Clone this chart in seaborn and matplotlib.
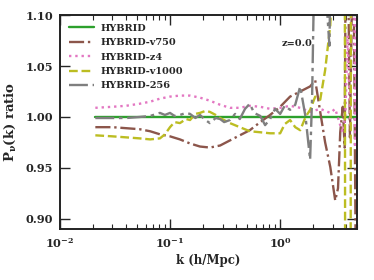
import matplotlib

matplotlib.use("Agg")
import matplotlib.pyplot as plt
import numpy as np
import pandas as pd
import seaborn as sns

# series
k_hybrid = [0.021, 0.05, 0.1, 0.3, 1.0, 3.0, 5.0]
r_hybrid = [1.0, 1.0, 1.0, 1.0, 1.0, 1.0, 1.0]

k_v750 = [0.021, 0.03, 0.04, 0.053, 0.066, 0.081, 0.1, 0.123, 0.152, 0.187,
          0.23, 0.285, 0.35, 0.43, 0.53, 0.66, 0.81, 1.0, 1.23, 1.52,
          1.87, 2.08, 2.31, 2.56, 2.85, 3.16, 3.35, 3.51, 3.7, 3.85,
          4.0, 4.3, 4.6, 4.9, 5.0]
r_v750 = [0.990, 0.990, 0.989, 0.988, 0.986, 0.983, 0.981, 0.978, 0.974, 0.971,
          0.970, 0.972, 0.977, 0.982, 0.987, 0.995, 1.002, 1.010, 1.020, 1.025,
          1.030, 1.036, 1.005, 0.975, 0.951, 0.918, 0.930, 0.985, 1.010, 0.970,
          1.300, 0.980, 1.200, 0.800, 0.850]

k_z4 = [0.021, 0.03, 0.04, 0.053, 0.066, 0.081, 0.1, 0.123, 0.152, 0.187,
        0.23, 0.285, 0.35, 0.43, 0.53, 0.66, 0.81, 1.0, 1.23, 1.52,
        1.87, 2.31, 2.85, 3.16, 3.51, 3.7, 3.9, 4.1, 4.33, 4.6,
        4.8, 5.0]
r_z4 = [1.009, 1.010, 1.011, 1.013, 1.015, 1.018, 1.020, 1.021, 1.021, 1.019,
        1.016, 1.012, 1.009, 1.009, 1.011, 1.010, 1.008, 1.009, 1.011, 1.009,
        1.005, 1.008, 1.004, 1.008, 0.992, 0.985, 1.000, 1.080, 0.990, 1.300,
        0.970, 1.250]

k_v1000 = [0.021, 0.03, 0.04, 0.053, 0.066, 0.081, 0.09, 0.1, 0.11, 0.123,
           0.14, 0.152, 0.17, 0.187, 0.21, 0.23, 0.26, 0.285, 0.35, 0.43,
           0.53, 0.66, 0.81, 1.0, 1.1, 1.23, 1.37, 1.52, 1.7, 1.87,
           2.08, 2.31, 2.56, 2.85, 3.16, 3.5, 3.85, 3.9, 4.35, 4.4,
           4.8, 5.0]
r_v1000 = [0.982, 0.981, 0.980, 0.979, 0.978, 0.979, 0.983, 0.990, 0.995, 0.994,
           0.998, 0.997, 1.003, 1.004, 1.006, 1.005, 1.002, 0.999, 0.994, 0.990,
           0.986, 0.985, 0.984, 0.984, 0.993, 0.997, 0.990, 0.987, 1.000, 1.007,
           1.020, 1.017, 1.046, 1.090, 1.200, 1.300, 1.300, 0.700, 0.700, 1.300,
           1.300, 1.200]

k_256 = [0.021, 0.03, 0.04, 0.053, 0.066, 0.081, 0.09, 0.1, 0.11, 0.123,
         0.14, 0.152, 0.17, 0.187, 0.21, 0.23, 0.26, 0.285, 0.31, 0.35,
         0.39, 0.43, 0.48, 0.53, 0.58, 0.66, 0.73, 0.81, 0.9, 1.0,
         1.1, 1.23, 1.37, 1.52, 1.7, 1.87, 1.95, 2.08, 2.3, 2.5,
         2.8, 3.0]
r_256 = [0.999, 0.999, 0.999, 1.000, 1.001, 1.004, 1.002, 1.004, 1.001, 1.002,
         1.004, 1.003, 0.999, 1.002, 0.997, 0.994, 0.999, 0.998, 0.995, 0.997,
         1.003, 0.998, 1.008, 1.013, 1.004, 1.001, 0.992, 0.998, 1.008, 1.003,
         1.011, 1.007, 1.012, 1.030, 1.000, 0.958, 1.020, 1.200, 1.350, 1.150,
         1.070, 1.300]

labels = ["HYBRID", "HYBRID-v750", "HYBRID-z4", "HYBRID-v1000", "HYBRID-256"]
colors = ["#2ca02c", "#8c564b", "#e377c2", "#bcbd22", "#7f7f7f"]
styles = ["-", "-.", ":", "--", (0, (8, 2, 1.5, 2))]
series = [(k_hybrid, r_hybrid), (k_v750, r_v750), (k_z4, r_z4),
          (k_v1000, r_v1000), (k_256, r_256)]

sns.set_style("ticks")
plt.rcParams["font.family"] = ["DejaVu Serif"]
plt.rcParams["font.weight"] = "bold"
plt.rcParams["axes.labelweight"] = "bold"
plt.rcParams["mathtext.fontset"] = "dejavuserif"
plt.rcParams["mathtext.default"] = "bf"

fig = plt.figure(figsize=(3.74, 2.80), dpi=100)
ax = fig.add_axes([0.160, 0.182, 0.795, 0.764])

for (k, r), lab, c, ls in zip(series, labels, colors, styles):
    df = pd.DataFrame({"k": k, "ratio": r})
    sns.lineplot(data=df, x="k", y="ratio", ax=ax, color=c, label=lab,
                 linestyle=ls, linewidth=1.7, estimator=None, sort=False)

ax.set_xscale("log")
ax.set_xlim(0.01, 5.0)
ax.set_ylim(0.89, 1.10)
ax.set_yticks([0.90, 0.95, 1.00, 1.05, 1.10])
ax.set_yticklabels(["0.90", "0.95", "1.00", "1.05", "1.10"])

ax.set_xlabel("k (h/Mpc)", fontsize=8.5, fontweight="bold", labelpad=3)
ax.set_ylabel(r"P$_\nu$(k) ratio", fontsize=9.5, fontweight="bold", labelpad=5)
ax.tick_params(which="both", direction="in", top=True, right=True, labelsize=8.2)
ax.tick_params(which="major", length=7, width=1, pad=5)
ax.tick_params(which="minor", length=3.5, width=0.8)
for sp in ax.spines.values():
    sp.set_linewidth(1.4)
    sp.set_color("#222222")

ax.text(0.745, 0.855, "z=0.0", transform=ax.transAxes, fontsize=7,
        fontweight="bold")

ax.legend(loc="upper left", frameon=False, fontsize=7, handlelength=2.6,
          labelspacing=0.55, borderaxespad=0.5, handletextpad=0.7)

fig.savefig("out.png", dpi=100)
